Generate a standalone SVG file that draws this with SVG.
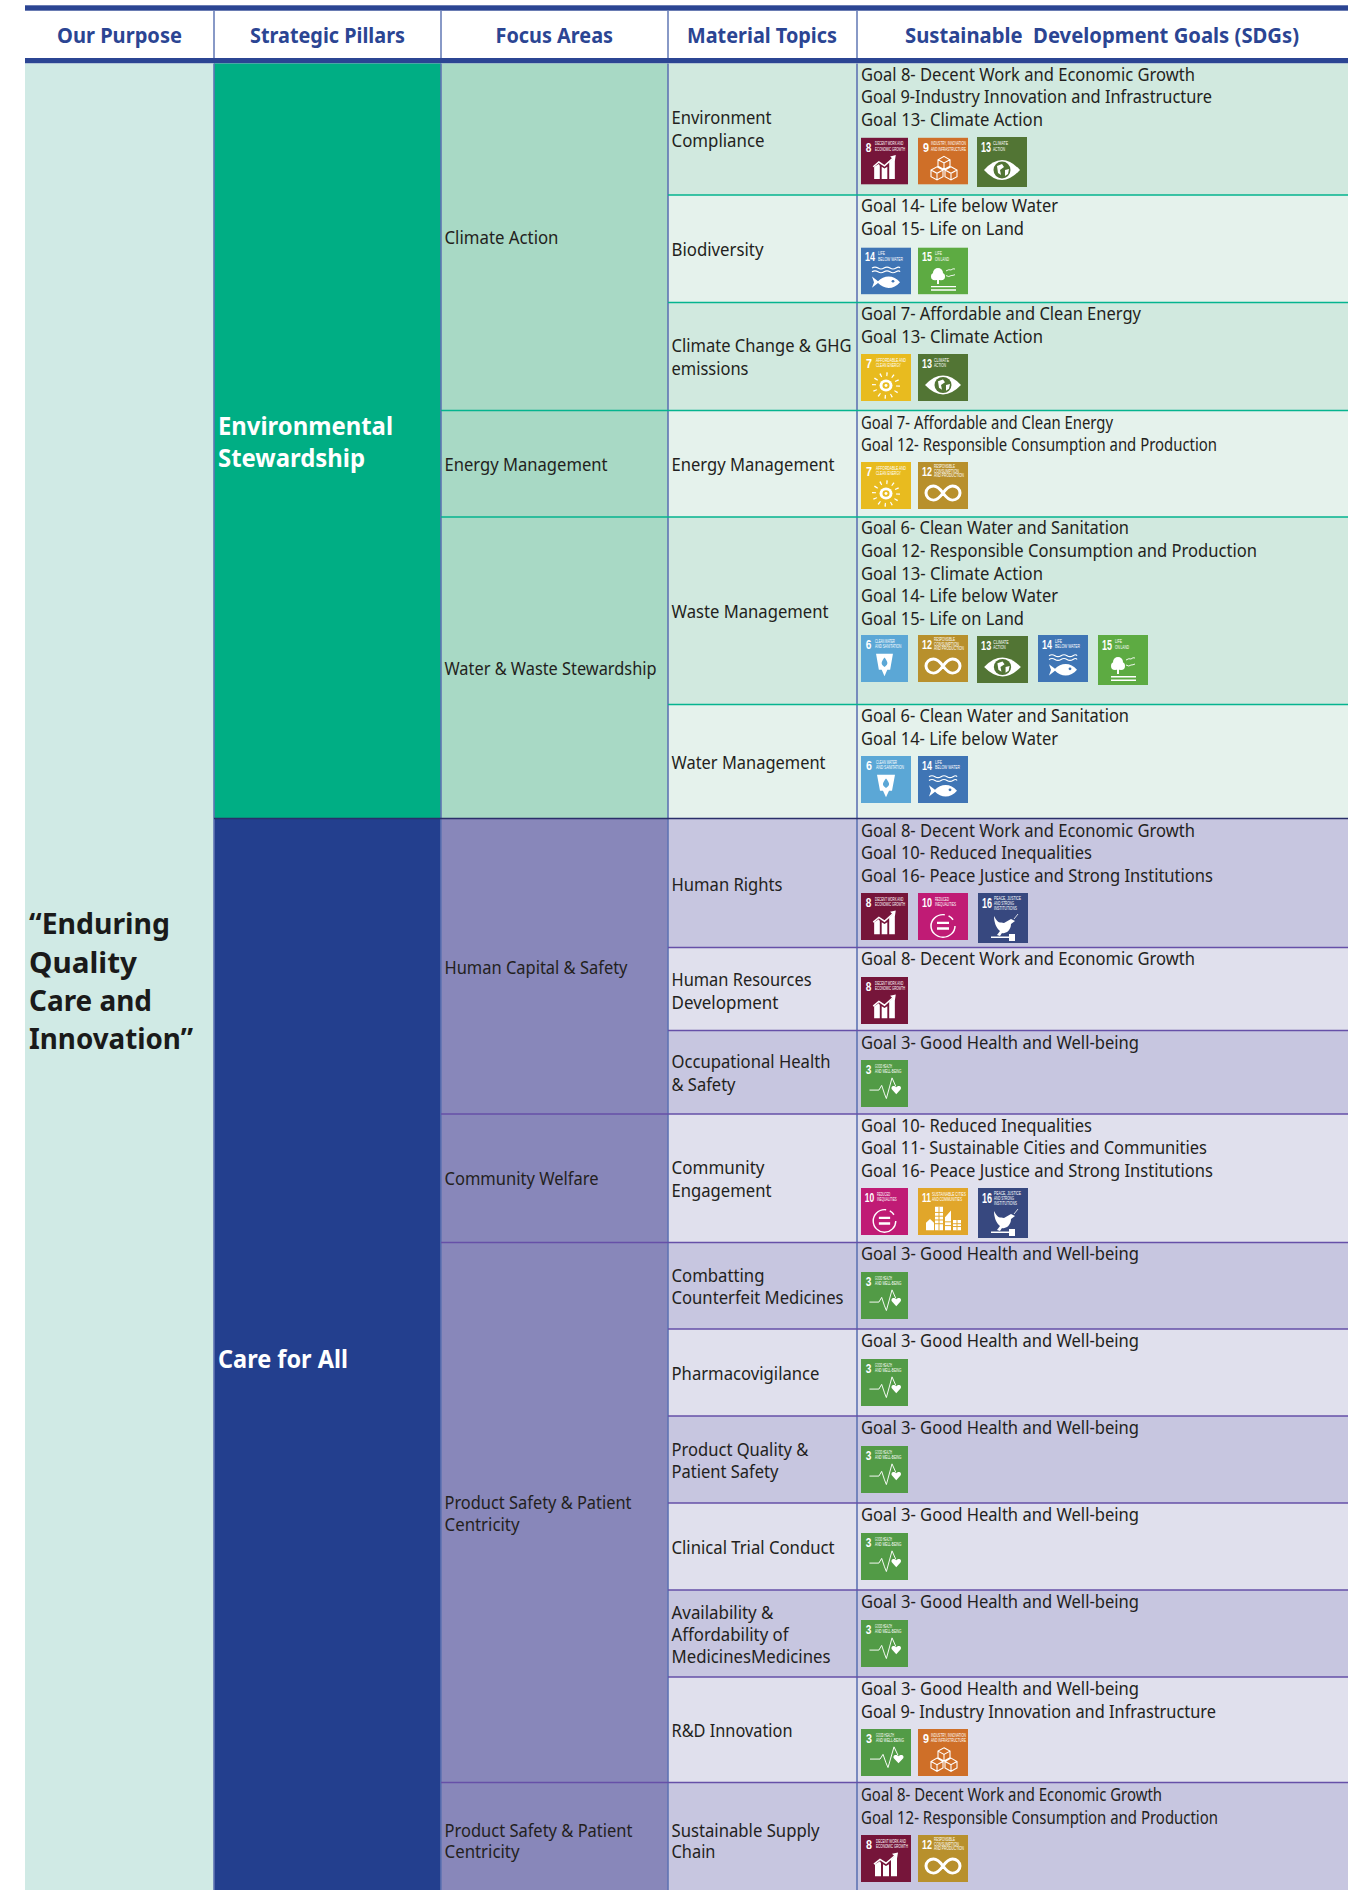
<svg xmlns="http://www.w3.org/2000/svg" width="1366" height="1890" viewBox="0 0 1366 1890">
<style>
text{font-family:"Noto Sans","Open Sans","Liberation Sans",sans-serif}
.t{font-size:17.5px;fill:#231f20}
.h{font-size:21px;font-weight:700;fill:#2b4593;}
.p{font-size:25px;font-weight:700;fill:#fff}
.q{font-size:29px;font-weight:700;fill:#1a1a1a}
.n{font-family:"Liberation Sans",sans-serif;font-size:14px;font-weight:700;fill:#fff}
.c{font-family:"Liberation Sans",sans-serif;font-size:5.2px;font-weight:400;fill:#fff}
.w{fill:none;stroke:#fff}
.f{fill:#fff}
.rv{stroke:#5f74b3;stroke-width:1.6;fill:none}
.rh{stroke:#6b80ba;stroke-width:1.6;fill:none}
.re{stroke:#05b48f;stroke-width:1.6;fill:none}
.rc{stroke:#6650a8;stroke-width:1.6;fill:none}
</style>
<defs>
<symbol id="s3" viewBox="0 0 50 50" preserveAspectRatio="none"><rect width="50" height="50" fill="#529b46"/><text class="n" x="5" y="15" textLength="6" lengthAdjust="spacingAndGlyphs">3</text><text class="c" x="15" y="8.4" textLength="18" lengthAdjust="spacingAndGlyphs">GOOD HEALTH</text><text class="c" x="15" y="14" textLength="28" lengthAdjust="spacingAndGlyphs">AND WELL-BEING</text><polyline class="w" stroke-width="1" points="9,32 19,32 22,27 25,36 27,41 33,19 37,28"/><path class="f" d="M37.5 36.5L33 31.5C31 28 35 26 37.5 29C40 26 44 28 42 31.5Z"/></symbol>
<symbol id="s6" viewBox="0 0 50 50" preserveAspectRatio="none"><rect width="50" height="50" fill="#5ba7d6"/><text class="n" x="5" y="15" textLength="6" lengthAdjust="spacingAndGlyphs">6</text><text class="c" x="15" y="8.4" textLength="21" lengthAdjust="spacingAndGlyphs">CLEAN WATER</text><text class="c" x="15" y="14" textLength="28" lengthAdjust="spacingAndGlyphs">AND SANITATION</text><path class="f" d="M16 20H34L31 37H28L25 44L22 37H19Z"/><path fill="#5ba7d6" d="M25 24C28 28 30 31 25 34C20 31 22 28 25 24Z"/></symbol>
<symbol id="s7" viewBox="0 0 50 50" preserveAspectRatio="none"><rect width="50" height="50" fill="#e8bb1f"/><text class="n" x="5" y="15" textLength="6" lengthAdjust="spacingAndGlyphs">7</text><text class="c" x="15" y="8.4" textLength="30" lengthAdjust="spacingAndGlyphs">AFFORDABLE AND</text><text class="c" x="15" y="14" textLength="25" lengthAdjust="spacingAndGlyphs">CLEAN ENERGY</text><circle cx="25" cy="33.5" r="12" fill="none" stroke="#fff" stroke-width="4" stroke-dasharray="1.3 4.98"/><circle class="f" cx="25" cy="33.5" r="6.5"/><circle cx="25" cy="33.5" r="3.5" fill="#e8bb1f"/><circle class="f" cx="25" cy="33.5" r="1.5"/></symbol>
<symbol id="s8" viewBox="0 0 50 50" preserveAspectRatio="none"><rect width="50" height="50" fill="#76153a"/><text class="n" x="5" y="15" textLength="6" lengthAdjust="spacingAndGlyphs">8</text><text class="c" x="15" y="8.4" textLength="30" lengthAdjust="spacingAndGlyphs">DECENT WORK AND</text><text class="c" x="15" y="14" textLength="32" lengthAdjust="spacingAndGlyphs">ECONOMIC GROWTH</text><polyline class="w" stroke-width="1.6" points="13,31 19,26 25,30 35,21"/><path class="f" d="M31 20L37 18.5L36 25Z"/><path class="f" d="M14 44V31L19 28L20 30V44ZM22 44V31L25 33L28 31V44ZM30 44V26L36 21V44Z"/></symbol>
<symbol id="s9" viewBox="0 0 50 50" preserveAspectRatio="none"><rect width="50" height="50" fill="#cf6f28"/><text class="n" x="5" y="15" textLength="6" lengthAdjust="spacingAndGlyphs">9</text><text class="c" x="13" y="8.4" textLength="35" lengthAdjust="spacingAndGlyphs">INDUSTRY, INNOVATION</text><text class="c" x="13" y="14" textLength="35" lengthAdjust="spacingAndGlyphs">AND INFRASTRUCTURE</text><path class="w" stroke-width="1.1" d="M26 20L32 23.5V30.5L26 34L20 30.5V23.5ZM20 23.5L26 27L32 23.5M26 27V34M19 31L25 34.5V41.5L19 45L13 41.5V34.5ZM13 34.5L19 38L25 34.5M19 38V45M33 31L39 34.5V41.5L33 45L27 41.5V34.5ZM27 34.5L33 38L39 34.5M33 38V45"/></symbol>
<symbol id="s10" viewBox="0 0 50 50" preserveAspectRatio="none"><rect width="50" height="50" fill="#c01b75"/><text class="n" x="4" y="15" textLength="10" lengthAdjust="spacingAndGlyphs">10</text><text class="c" x="17" y="8.4" textLength="14" lengthAdjust="spacingAndGlyphs">REDUCED</text><text class="c" x="17" y="14" textLength="21" lengthAdjust="spacingAndGlyphs">INEQUALITIES</text><circle class="w" stroke-width="1.5" cx="25" cy="35" r="12" stroke-dasharray="58 4 6 7.4"/><path class="f" d="M19 30.5H31V33H19ZM19 36.5H31V39H19Z"/></symbol>
<symbol id="s11" viewBox="0 0 50 50" preserveAspectRatio="none"><rect width="50" height="50" fill="#e1a62a"/><text class="n" x="4" y="15" textLength="9" lengthAdjust="spacingAndGlyphs">11</text><text class="c" x="14" y="8.4" textLength="34" lengthAdjust="spacingAndGlyphs">SUSTAINABLE CITIES</text><text class="c" x="14" y="14" textLength="30" lengthAdjust="spacingAndGlyphs">AND COMMUNITIES</text><path class="f" d="M8 45V37L12 33L16 37V45ZM17 45V20H25V45ZM27 45V31L33 24V45ZM35 45V34H43V45Z"/><path stroke="#e1a62a" stroke-width="1" fill="none" d="M17 26H25M17 30H25M17 34H25M17 38H25M21 20V45M27 36H33M27 40H33M35 38H43M35 41H43M39 34V45"/></symbol>
<symbol id="s12" viewBox="0 0 50 50" preserveAspectRatio="none"><rect width="50" height="50" fill="#b8902c"/><text class="n" x="4" y="15" textLength="10" lengthAdjust="spacingAndGlyphs">12</text><text class="c" x="16" y="6.5" textLength="21" lengthAdjust="spacingAndGlyphs">RESPONSIBLE</text><text class="c" x="16" y="11.5" textLength="25" lengthAdjust="spacingAndGlyphs">CONSUMPTION</text><text class="c" x="16" y="16.5" textLength="30" lengthAdjust="spacingAndGlyphs">AND PRODUCTION</text><path class="w" stroke-width="3" d="M25 33C21 27 18 25.5 15.5 25.5A7.5 7.5 0 0 0 15.5 40.5C18 40.5 21 39 25 33C29 27 32 25.5 34.5 25.5A7.5 7.5 0 0 1 34.5 40.5C32 40.5 29 39 25 33Z"/></symbol>
<symbol id="s13" viewBox="0 0 50 50" preserveAspectRatio="none"><rect width="50" height="50" fill="#527534"/><text class="n" x="4" y="15" textLength="10" lengthAdjust="spacingAndGlyphs">13</text><text class="c" x="16" y="8.4" textLength="15" lengthAdjust="spacingAndGlyphs">CLIMATE</text><text class="c" x="16" y="14" textLength="12" lengthAdjust="spacingAndGlyphs">ACTION</text><path class="f" d="M7 33Q25 13 43 33Q25 53 7 33Z"/><circle cx="25" cy="33" r="8.5" fill="#527534"/><path class="f" d="M20 29L25 27L27 30L23 33L24 38L21 36ZM28 33L32 32L31 37L28 39Z"/></symbol>
<symbol id="s14" viewBox="0 0 50 50" preserveAspectRatio="none"><rect width="50" height="50" fill="#3f75b5"/><text class="n" x="4" y="15" textLength="10" lengthAdjust="spacingAndGlyphs">14</text><text class="c" x="17" y="8.4" textLength="7" lengthAdjust="spacingAndGlyphs">LIFE</text><text class="c" x="17" y="14" textLength="25" lengthAdjust="spacingAndGlyphs">BELOW WATER</text><path class="w" stroke-width="1.2" d="M11 22Q14 20 17 22T23 22T29 22T35 22T39 22M11 26Q14 24 17 26T23 26T29 26T35 26T39 26"/><path class="f" d="M39 37C33 29 23 29 17 36L11 31L13 37L11 43L17 38C23 45 33 45 39 37Z"/><circle cx="32" cy="36" r="1.4" fill="#3f75b5"/></symbol>
<symbol id="s15" viewBox="0 0 50 50" preserveAspectRatio="none"><rect width="50" height="50" fill="#5dab42"/><text class="n" x="4" y="15" textLength="10" lengthAdjust="spacingAndGlyphs">15</text><text class="c" x="17" y="8.4" textLength="7" lengthAdjust="spacingAndGlyphs">LIFE</text><text class="c" x="17" y="14" textLength="14" lengthAdjust="spacingAndGlyphs">ON LAND</text><circle class="f" cx="20" cy="27" r="5"/><circle class="f" cx="17" cy="31" r="4"/><circle class="f" cx="23" cy="31" r="4"/><rect class="f" x="19" y="33" width="2" height="6"/><path class="f" d="M13 41H38V42.5H13ZM13 44.5H38V46H13Z"/><path class="w" stroke-width=".9" d="M28 25Q31 23 33 24Q35 22 37 23M28 30Q31 32 33 30Q35 30 37 29"/></symbol>
<symbol id="s16" viewBox="0 0 50 50" preserveAspectRatio="none"><rect width="50" height="50" fill="#37487f"/><text class="n" x="4" y="15" textLength="10" lengthAdjust="spacingAndGlyphs">16</text><text class="c" x="16" y="6.5" textLength="27" lengthAdjust="spacingAndGlyphs">PEACE, JUSTICE</text><text class="c" x="16" y="11.5" textLength="20" lengthAdjust="spacingAndGlyphs">AND STRONG</text><text class="c" x="16" y="16.5" textLength="23" lengthAdjust="spacingAndGlyphs">INSTITUTIONS</text><path class="f" d="M16 23C20 31 22 29 26 30L33 26L37 28L33 31C33 38 27 41 24 40L22 43L19 42L22 38C18 35 16 29 16 23Z"/><path class="f" d="M13 43.5H31V45H13ZM31 41H37V48H31Z"/><path class="w" stroke-width=".8" d="M36 26L40 21"/></symbol>
</defs>

<rect width="1366" height="1890" fill="#fff"/>

<g id="header">
<rect x="25" y="5.3" width="1323" height="5.4" fill="#2b4593"/>
<rect x="25" y="58" width="1323" height="5.5" fill="#2b4593"/>
<text class="h" x="57" y="43" textLength="125" lengthAdjust="spacingAndGlyphs">Our Purpose</text>
<text class="h" x="250" y="43" textLength="155" lengthAdjust="spacingAndGlyphs">Strategic Pillars</text>
<text class="h" x="495.5" y="43" textLength="117.5" lengthAdjust="spacingAndGlyphs">Focus Areas</text>
<text class="h" x="687" y="43" textLength="150" lengthAdjust="spacingAndGlyphs">Material Topics</text>
<text class="h" x="905" y="43" textLength="394" lengthAdjust="spacingAndGlyphs" xml:space="preserve">Sustainable  Development Goals (SDGs)</text>
</g>

<g id="purpose">
<rect x="25" y="63.5" width="189" height="1826.5" fill="#d0eae5"/>
<text class="q" x="29" y="934" textLength="141" lengthAdjust="spacingAndGlyphs">“Enduring</text>
<text class="q" x="29" y="973" textLength="108" lengthAdjust="spacingAndGlyphs">Quality</text>
<text class="q" x="29" y="1011" textLength="123" lengthAdjust="spacingAndGlyphs">Care and</text>
<text class="q" x="29" y="1049" textLength="164" lengthAdjust="spacingAndGlyphs">Innovation”</text>
</g>

<g id="pillar-environmental">
<rect x="214" y="63.5" width="227" height="755" fill="#00ae84"/>
<text class="p" x="218" y="435" textLength="175" lengthAdjust="spacingAndGlyphs">Environmental</text>
<text class="p" x="218" y="467" textLength="147" lengthAdjust="spacingAndGlyphs">Stewardship</text>
</g>
<g id="pillar-care">
<rect x="214" y="818.5" width="227" height="1071.5" fill="#233f8e"/>
<text class="p" x="218" y="1368" textLength="130" lengthAdjust="spacingAndGlyphs">Care for All</text>
</g>

<g id="focus-climate"><rect x="441" y="63.5" width="227" height="347" fill="#a8d9c5"/><text class="t" x="444.5" y="244" textLength="114" lengthAdjust="spacingAndGlyphs">Climate Action</text></g>
<g id="focus-energy"><rect x="441" y="410.5" width="227" height="106.5" fill="#a8d9c5"/><text class="t" x="444.5" y="471" textLength="163" lengthAdjust="spacingAndGlyphs">Energy Management</text></g>
<g id="focus-water"><rect x="441" y="517" width="227" height="301.5" fill="#a8d9c5"/><text class="t" x="444.5" y="675" textLength="212" lengthAdjust="spacingAndGlyphs">Water &amp; Waste Stewardship</text></g>
<g id="focus-human"><rect x="441" y="818.5" width="227" height="295.5" fill="#8887ba"/><text class="t" x="444.5" y="974" textLength="183" lengthAdjust="spacingAndGlyphs">Human Capital &amp; Safety</text></g>
<g id="focus-community"><rect x="441" y="1114" width="227" height="128.5" fill="#8887ba"/><text class="t" x="444.5" y="1185" textLength="154" lengthAdjust="spacingAndGlyphs">Community Welfare</text></g>
<g id="focus-product"><rect x="441" y="1242.5" width="227" height="540" fill="#8887ba"/><text class="t" x="444.5" y="1509" textLength="187" lengthAdjust="spacingAndGlyphs">Product Safety &amp; Patient</text><text class="t" x="444.5" y="1531" textLength="75" lengthAdjust="spacingAndGlyphs">Centricity</text></g>
<g id="focus-product-2"><rect x="441" y="1782.5" width="227" height="107.5" fill="#8887ba"/><text class="t" x="444.5" y="1837" textLength="188" lengthAdjust="spacingAndGlyphs">Product Safety &amp; Patient</text><text class="t" x="444.5" y="1858" textLength="75" lengthAdjust="spacingAndGlyphs">Centricity</text></g>

<g id="row-environment"><rect x="668" y="63.5" width="680" height="131.5" fill="#d1e9df"/>
<text class="t" x="671.5" y="124" textLength="100" lengthAdjust="spacingAndGlyphs">Environment</text><text class="t" x="671.5" y="147" textLength="93" lengthAdjust="spacingAndGlyphs">Compliance</text>
<text class="t" x="861" y="81" textLength="334" lengthAdjust="spacingAndGlyphs">Goal 8- Decent Work and Economic Growth</text>
<text class="t" x="861" y="103.2" textLength="351" lengthAdjust="spacingAndGlyphs">Goal 9-Industry Innovation and Infrastructure</text>
<text class="t" x="861" y="125.6" textLength="182" lengthAdjust="spacingAndGlyphs">Goal 13- Climate Action</text>
<use href="#s8" x="861" y="137.6" width="47" height="47"/><use href="#s9" x="918" y="137.6" width="50" height="47"/><use href="#s13" x="977" y="137" width="50" height="50"/></g>

<g id="row-biodiversity"><rect x="668" y="195" width="680" height="107.5" fill="#e5f2ec"/>
<text class="t" x="671.5" y="256" textLength="92" lengthAdjust="spacingAndGlyphs">Biodiversity</text>
<text class="t" x="861" y="212" textLength="197" lengthAdjust="spacingAndGlyphs">Goal 14- Life below Water</text>
<text class="t" x="861" y="235.4" textLength="163" lengthAdjust="spacingAndGlyphs">Goal 15- Life on Land</text>
<use href="#s14" x="861" y="247.4" width="50" height="47"/><use href="#s15" x="918" y="247.4" width="50" height="47"/></g>

<g id="row-climate-change"><rect x="668" y="302.5" width="680" height="108" fill="#d1e9df"/>
<text class="t" x="671.5" y="352" textLength="180" lengthAdjust="spacingAndGlyphs">Climate Change &amp; GHG</text><text class="t" x="671.5" y="375" textLength="77" lengthAdjust="spacingAndGlyphs">emissions</text>
<text class="t" x="861" y="320" textLength="280" lengthAdjust="spacingAndGlyphs">Goal 7- Affordable and Clean Energy</text>
<text class="t" x="861" y="342.7" textLength="182" lengthAdjust="spacingAndGlyphs">Goal 13- Climate Action</text>
<use href="#s7" x="861" y="354" width="50" height="47"/><use href="#s13" x="918" y="354" width="50" height="47"/></g>

<g id="row-energy"><rect x="668" y="410.5" width="680" height="106.5" fill="#e5f2ec"/>
<text class="t" x="671.5" y="471" textLength="163" lengthAdjust="spacingAndGlyphs">Energy Management</text>
<text class="t" x="861" y="429" textLength="252" lengthAdjust="spacingAndGlyphs">Goal 7- Affordable and Clean Energy</text>
<text class="t" x="861" y="451" textLength="356" lengthAdjust="spacingAndGlyphs">Goal 12- Responsible Consumption and Production</text>
<use href="#s7" x="861" y="462" width="50" height="47"/><use href="#s12" x="918" y="462" width="50" height="47"/></g>

<g id="row-waste"><rect x="668" y="517" width="680" height="187.5" fill="#d1e9df"/>
<text class="t" x="671.5" y="618" textLength="157" lengthAdjust="spacingAndGlyphs">Waste Management</text>
<text class="t" x="861" y="534.4" textLength="268" lengthAdjust="spacingAndGlyphs">Goal 6- Clean Water and Sanitation</text>
<text class="t" x="861" y="557" textLength="396" lengthAdjust="spacingAndGlyphs">Goal 12- Responsible Consumption and Production</text>
<text class="t" x="861" y="579.6" textLength="182" lengthAdjust="spacingAndGlyphs">Goal 13- Climate Action</text>
<text class="t" x="861" y="602.2" textLength="197" lengthAdjust="spacingAndGlyphs">Goal 14- Life below Water</text>
<text class="t" x="861" y="624.8" textLength="163" lengthAdjust="spacingAndGlyphs">Goal 15- Life on Land</text>
<use href="#s6" x="861" y="635" width="47" height="47"/><use href="#s12" x="918" y="635" width="50" height="47"/><use href="#s13" x="977" y="636" width="51" height="47"/><use href="#s14" x="1038" y="635" width="50" height="47"/><use href="#s15" x="1098" y="635" width="50" height="50"/></g>

<g id="row-water"><rect x="668" y="704.5" width="680" height="114" fill="#e5f2ec"/>
<text class="t" x="671.5" y="769" textLength="154" lengthAdjust="spacingAndGlyphs">Water Management</text>
<text class="t" x="861" y="722" textLength="268" lengthAdjust="spacingAndGlyphs">Goal 6- Clean Water and Sanitation</text>
<text class="t" x="861" y="745" textLength="197" lengthAdjust="spacingAndGlyphs">Goal 14- Life below Water</text>
<use href="#s6" x="861" y="756" width="50" height="47"/><use href="#s14" x="918" y="756" width="50" height="47"/></g>

<g id="row-human-rights"><rect x="668" y="818.5" width="680" height="129" fill="#c7c6e0"/>
<text class="t" x="671.5" y="891" textLength="111" lengthAdjust="spacingAndGlyphs">Human Rights</text>
<text class="t" x="861" y="836.5" textLength="334" lengthAdjust="spacingAndGlyphs">Goal 8- Decent Work and Economic Growth</text>
<text class="t" x="861" y="859.3" textLength="231" lengthAdjust="spacingAndGlyphs">Goal 10- Reduced Inequalities</text>
<text class="t" x="861" y="882" textLength="352" lengthAdjust="spacingAndGlyphs">Goal 16- Peace Justice and Strong Institutions</text>
<use href="#s8" x="861" y="893" width="47" height="47"/><use href="#s10" x="918" y="893" width="50" height="47"/><use href="#s16" x="978" y="893" width="50" height="50"/></g>

<g id="row-hr-development"><rect x="668" y="947.5" width="680" height="83" fill="#e0e0ed"/>
<text class="t" x="671.5" y="986" textLength="140" lengthAdjust="spacingAndGlyphs">Human Resources</text><text class="t" x="671.5" y="1009" textLength="107" lengthAdjust="spacingAndGlyphs">Development</text>
<text class="t" x="861" y="965.3" textLength="334" lengthAdjust="spacingAndGlyphs">Goal 8- Decent Work and Economic Growth</text>
<use href="#s8" x="861" y="977" width="47" height="47"/></g>

<g id="row-occupational"><rect x="668" y="1030.5" width="680" height="83.5" fill="#c7c6e0"/>
<text class="t" x="671.5" y="1068" textLength="159" lengthAdjust="spacingAndGlyphs">Occupational Health</text><text class="t" x="671.5" y="1091" textLength="64" lengthAdjust="spacingAndGlyphs">&amp; Safety</text>
<text class="t" x="861" y="1049" textLength="278" lengthAdjust="spacingAndGlyphs">Goal 3- Good Health and Well-being</text>
<use href="#s3" x="861" y="1060" width="47" height="47"/></g>

<g id="row-community"><rect x="668" y="1114" width="680" height="128.5" fill="#e0e0ed"/>
<text class="t" x="671.5" y="1174" textLength="93" lengthAdjust="spacingAndGlyphs">Community</text><text class="t" x="671.5" y="1197" textLength="100" lengthAdjust="spacingAndGlyphs">Engagement</text>
<text class="t" x="861" y="1132" textLength="231" lengthAdjust="spacingAndGlyphs">Goal 10- Reduced Inequalities</text>
<text class="t" x="861" y="1154.3" textLength="346" lengthAdjust="spacingAndGlyphs">Goal 11- Sustainable Cities and Communities</text>
<text class="t" x="861" y="1177.4" textLength="352" lengthAdjust="spacingAndGlyphs">Goal 16- Peace Justice and Strong Institutions</text>
<use href="#s10" x="861" y="1188" width="47" height="47"/><use href="#s11" x="918" y="1188" width="50" height="47"/><use href="#s16" x="978" y="1188" width="50" height="50"/></g>

<g id="row-counterfeit"><rect x="668" y="1242.5" width="680" height="86.5" fill="#c7c6e0"/>
<text class="t" x="671.5" y="1282" textLength="93" lengthAdjust="spacingAndGlyphs">Combatting</text><text class="t" x="671.5" y="1304" textLength="172" lengthAdjust="spacingAndGlyphs">Counterfeit Medicines</text>
<text class="t" x="861" y="1260" textLength="278" lengthAdjust="spacingAndGlyphs">Goal 3- Good Health and Well-being</text>
<use href="#s3" x="861" y="1272" width="47" height="47"/></g>

<g id="row-pharmacovigilance"><rect x="668" y="1329" width="680" height="87" fill="#e0e0ed"/>
<text class="t" x="671.5" y="1380" textLength="148" lengthAdjust="spacingAndGlyphs">Pharmacovigilance</text>
<text class="t" x="861" y="1347" textLength="278" lengthAdjust="spacingAndGlyphs">Goal 3- Good Health and Well-being</text>
<use href="#s3" x="861" y="1359" width="47" height="47"/></g>

<g id="row-product-quality"><rect x="668" y="1416" width="680" height="87" fill="#c7c6e0"/>
<text class="t" x="671.5" y="1456" textLength="137" lengthAdjust="spacingAndGlyphs">Product Quality &amp;</text><text class="t" x="671.5" y="1478" textLength="107" lengthAdjust="spacingAndGlyphs">Patient Safety</text>
<text class="t" x="861" y="1434" textLength="278" lengthAdjust="spacingAndGlyphs">Goal 3- Good Health and Well-being</text>
<use href="#s3" x="861" y="1446" width="47" height="47"/></g>

<g id="row-clinical"><rect x="668" y="1503" width="680" height="87" fill="#e0e0ed"/>
<text class="t" x="671.5" y="1554" textLength="163" lengthAdjust="spacingAndGlyphs">Clinical Trial Conduct</text>
<text class="t" x="861" y="1521" textLength="278" lengthAdjust="spacingAndGlyphs">Goal 3- Good Health and Well-being</text>
<use href="#s3" x="861" y="1533" width="47" height="47"/></g>

<g id="row-availability"><rect x="668" y="1590" width="680" height="87" fill="#c7c6e0"/>
<text class="t" x="671.5" y="1619" textLength="102" lengthAdjust="spacingAndGlyphs">Availability &amp;</text><text class="t" x="671.5" y="1641" textLength="117" lengthAdjust="spacingAndGlyphs">Affordability of</text><text class="t" x="671.5" y="1663" textLength="159" lengthAdjust="spacingAndGlyphs">MedicinesMedicines</text>
<text class="t" x="861" y="1608" textLength="278" lengthAdjust="spacingAndGlyphs">Goal 3- Good Health and Well-being</text>
<use href="#s3" x="861" y="1620" width="47" height="47"/></g>

<g id="row-rd"><rect x="668" y="1677" width="680" height="105.5" fill="#e0e0ed"/>
<text class="t" x="671.5" y="1737" textLength="121" lengthAdjust="spacingAndGlyphs">R&amp;D Innovation</text>
<text class="t" x="861" y="1695" textLength="278" lengthAdjust="spacingAndGlyphs">Goal 3- Good Health and Well-being</text>
<text class="t" x="861" y="1718" textLength="355" lengthAdjust="spacingAndGlyphs">Goal 9- Industry Innovation and Infrastructure</text>
<use href="#s3" x="861" y="1729" width="50" height="47"/><use href="#s9" x="918" y="1729" width="50" height="47"/></g>

<g id="row-supply-chain"><rect x="668" y="1782.5" width="680" height="107.5" fill="#c7c6e0"/>
<text class="t" x="671.5" y="1837" textLength="148" lengthAdjust="spacingAndGlyphs">Sustainable Supply</text><text class="t" x="671.5" y="1858" textLength="44" lengthAdjust="spacingAndGlyphs">Chain</text>
<text class="t" x="861" y="1801" textLength="301" lengthAdjust="spacingAndGlyphs">Goal 8- Decent Work and Economic Growth</text>
<text class="t" x="861" y="1824" textLength="357" lengthAdjust="spacingAndGlyphs">Goal 12- Responsible Consumption and Production</text>
<use href="#s8" x="861" y="1835" width="50" height="47"/><use href="#s12" x="918" y="1835" width="50" height="47"/></g>

<g id="connectors">
<path class="rh" d="M214 10.7V58M441 10.7V58M668 10.7V58M857 10.7V58"/>
<path class="rv" d="M214 63.5V1890M441 63.5V1890M668 63.5V1890M857 63.5V1890"/>
<path class="re" d="M668 195H1348M668 302.5H1348M441 410.5H1348M441 517H1348M668 704.5H1348"/>
<path stroke="#2a2f6a" stroke-width="1.6" d="M214 818.5H1348"/>
<path class="rc" d="M668 947.5H1348M668 1030.5H1348M441 1114H1348M441 1242.5H1348M668 1329H1348M668 1416H1348M668 1503H1348M668 1590H1348M668 1677H1348M441 1782.5H1348"/>
</g>
</svg>
